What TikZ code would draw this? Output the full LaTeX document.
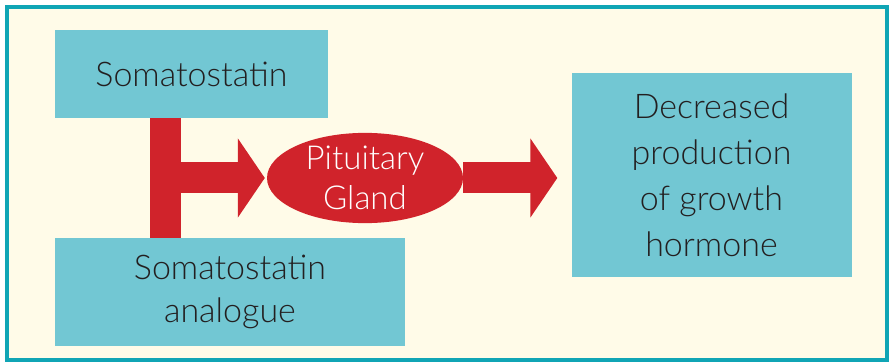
\documentclass[tikz,border=0pt]{standalone}
\usepackage{fontspec}
\setmainfont{Lato}[UprightFont=* Light]
\usetikzlibrary{arrows.meta, shapes.geometric}
\definecolor{frameteal}{HTML}{10A5B5}
\definecolor{paper}{HTML}{FFFBE8}
\definecolor{boxblue}{HTML}{72C7D3}
\definecolor{signred}{HTML}{D0232B}
\definecolor{inkgray}{HTML}{231F20}
\tikzset{
    box/.style = {fill=boxblue, inner sep=0pt, align=center, text=inkgray, font=\fontsize{34}{46}\selectfont},
    gland/.style = {ellipse, fill=signred, inner sep=0pt, align=center, text=white, font=\fontsize{33}{40}\selectfont},
    bar/.style = {draw=signred, line width=31pt},
    fatarrow/.style = {bar, -{Triangle[length=27pt, width=78pt]}}
}

\begin{document}
\begin{tikzpicture}[x=1pt, y=-1pt]
        \useasboundingbox (0, 0) rectangle (891, 363);
        % frame and paper
        \fill[white] (0, 0) rectangle (891, 363);
        \draw[frameteal, fill=paper, line width=4pt] (7, 7) rectangle (887, 360);
        % place boxes
        \node[box, minimum width=273pt, minimum height=88pt] (soma) at (191.5, 74) {Somatostatin};
        \node[box, minimum width=350pt, minimum height=107pt, font=\fontsize{34}{43}\selectfont] (analogue) at (230, 292) {Somatostatin\\analogue};
        \node[box, minimum width=280pt, minimum height=204pt] (growth) at (711.5, 175) {Decreased\\production\\of growth\\hormone};
        \node[gland, minimum width=196pt, minimum height=88pt] (pituitary) at (365, 178) {Pituitary\\Gland};
        % draw the red connectors
        \coordinate (bartop) at ([xshift=110.5pt]soma.south west);
        \draw[bar] (bartop) -- (bartop |- analogue.north);
        \draw[fatarrow, shorten >=2pt] (bartop |- pituitary.west) -- (pituitary.west);
        \draw[fatarrow, shorten >=14pt] (pituitary.east) -- (growth.west |- pituitary.east);
    \end{tikzpicture}
\end{document}
